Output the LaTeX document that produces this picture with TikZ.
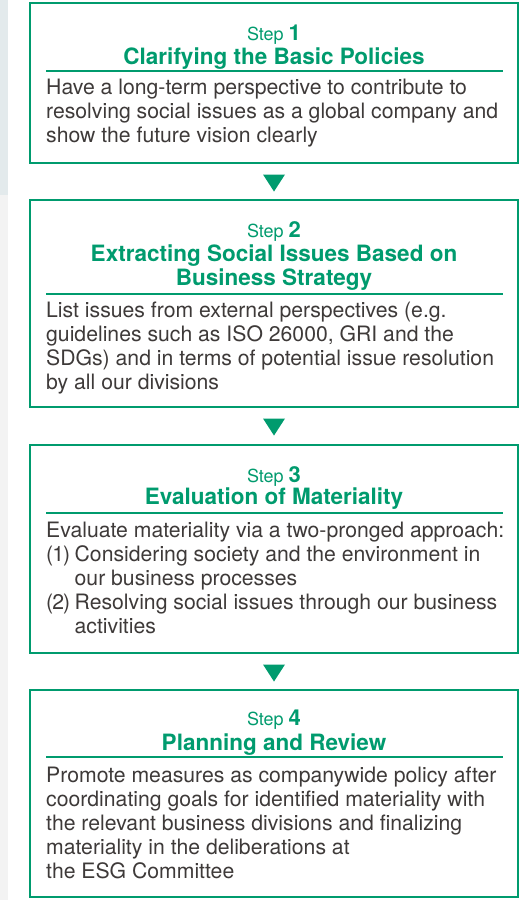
\documentclass[tikz,border=0pt]{standalone}
\usepackage{fontspec}
\setmainfont{TeX Gyre Heros}
\usetikzlibrary{shapes.geometric}
\definecolor{stepgreen}{RGB}{0,155,110}
\definecolor{bodygray}{RGB}{62,58,57}
\definecolor{stripblue}{RGB}{227,234,236}
\definecolor{stripgray}{RGB}{243,243,243}
\tikzset{x=1pt, y=-1pt}
\tikzset{
  stepbox/.style={draw=stepgreen, line width=2.6pt, fill=white, minimum width=488pt, inner sep=0pt},
  steplbl/.style={anchor=base, text=stepgreen, inner sep=0pt, font=\fontsize{18}{20}\selectfont},
  titlelbl/.style={anchor=base, text=stepgreen, inner sep=0pt, font=\fontsize{22.5}{24}\selectfont\bfseries},
  bodylbl/.style={anchor=base west, text=bodygray, inner sep=0pt, font=\fontsize{21.2}{24}\selectfont},
  steprule/.style={draw=stepgreen, line width=2.4pt},
  downtri/.style={isosceles triangle, isosceles triangle stretches, shape border rotate=270,
    fill=stepgreen, minimum width=22pt, minimum height=17pt, inner sep=0pt},
}
\newcommand{\stepno}[1]{\textbf{\fontsize{22}{24}\selectfont #1}}
\newcommand{\itemno}[1]{\makebox[28.5pt][l]{#1}}

\begin{document}
\begin{tikzpicture}
\useasboundingbox (0,0) rectangle (525,900);
% strip on the left
\fill[stripblue] (0,0) rectangle (8,195);
\fill[stripgray] (0,195) rectangle (8,900);

% the four boxes
\node[stepbox, minimum height=160pt] (box1) at (274,83) {};
\node[stepbox, minimum height=207pt] (box2) at (274,303.5) {};
\node[stepbox, minimum height=208pt] (box3) at (274,549) {};
\node[stepbox, minimum height=207pt] (box4) at (274,793.5) {};

% arrows between boxes
\foreach \y [count=\i] in {180.5,424.5,670.5}
\node[downtri] (arrow\i) at (274,\y) {};

% step 1
\node[steplbl] (step1) at (274,40) {Step \stepno{1}};
\node[titlelbl] (title1) at (274,64) {Clarifying the Basic Policies};
\draw[steprule] (46,71) -- (503,71);
\foreach \t [count=\i] in {Have a long-term perspective to contribute to,
  resolving social issues as a global company and,
  show the future vision clearly}
\node[bodylbl] (body1-\i) at (46,70+24*\i) {\t};

% step 2
\node[steplbl] (step2) at (274,237) {Step \stepno{2}};
\node[titlelbl] (title2a) at (274,261) {Extracting Social Issues Based on};
\node[titlelbl] (title2b) at (274,285) {Business Strategy};
\draw[steprule] (46,294) -- (503,294);
\foreach \t [count=\i] in {List issues from external perspectives (e.g.,
  {guidelines such as ISO 26000, GRI and the},
  SDGs) and in terms of potential issue resolution,
  by all our divisions}
\node[bodylbl] (body2-\i) at (46,293+24*\i) {\t};

% step 3
\node[steplbl] (step3) at (274,482) {Step \stepno{3}};
\node[titlelbl] (title3) at (274,504) {Evaluation of Materiality};
\draw[steprule] (46,513) -- (503,513);
\foreach \t [count=\i] in {Evaluate materiality via a two-pronged approach:,
  \itemno{(\kern-1pt1\kern-1pt)}Considering society and the environment in,
  \itemno{}our business processes,
  \itemno{(\kern-1pt2\kern-1pt)}Resolving social issues through our business,
  \itemno{}activities}
\node[bodylbl] (body3-\i) at (46,513+24*\i) {\t};

% step 4
\node[steplbl] (step4) at (274,725) {Step \stepno{4}};
\node[titlelbl] (title4) at (274,750) {Planning and Review};
\draw[steprule] (46,757) -- (503,757);
\foreach \t [count=\i] in {Promote measures as companywide policy after,
  coordinating goals for identified materiality with,
  the relevant business divisions and finalizing,
  materiality in the deliberations at,
  the ESG Committee}
\node[bodylbl] (body4-\i) at (46,758+24*\i) {\t};
\end{tikzpicture}
\end{document}
